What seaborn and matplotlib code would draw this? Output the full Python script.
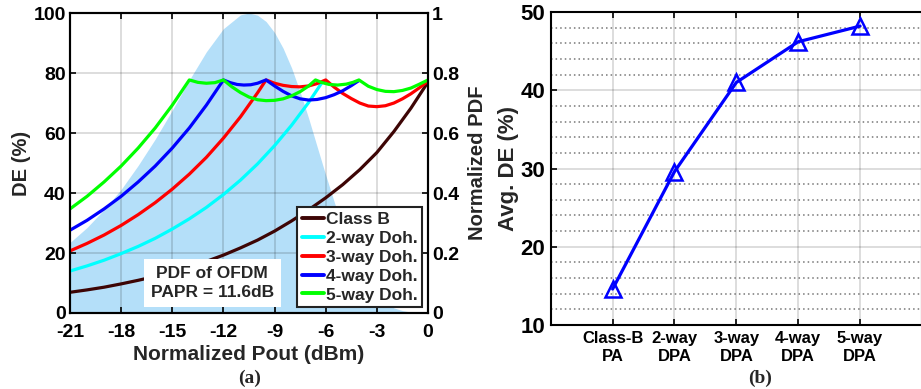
import numpy as np
import pandas as pd
import matplotlib
matplotlib.use("Agg")
import matplotlib.pyplot as plt
import seaborn as sns
from matplotlib.ticker import MultipleLocator, FixedLocator, FixedFormatter

# ---------------- data: panel (a) ----------------
series_names = ["Class B", "2-way Doh.", "3-way Doh.", "4-way Doh.", "5-way Doh."]
series_colors = ["#3d0505", "#00ffff", "#ff0000", "#0000ff", "#00ff00"]

pout_classb = [-21, -20, -19, -18, -17, -16, -15, -14, -13, -12, -11, -10,
               -9, -8, -7, -6, -5, -4, -3, -2, -1, 0]
de_classb = [6.9, 7.7, 8.6, 9.7, 10.9, 12.2, 13.7, 15.4, 17.2, 19.3, 21.7, 24.3,
             27.3, 30.7, 34.4, 38.4, 42.8, 47.8, 53.5, 60.5, 68.3, 77.0]

pout_2way = [-21, -20, -19, -18, -17, -16, -15, -14, -13, -12, -11, -10,
             -9, -8, -7, -6.2]
de_2way = [14.0, 15.7, 17.6, 19.8, 22.2, 24.9, 28.0, 31.4, 35.2, 39.5, 44.3, 49.7,
           55.8, 62.6, 70.2, 77.0]

pout_3way = [-21, -20, -19, -18, -17, -16, -15, -14, -13, -12, -11, -10, -9.5,
             -9.0, -8.5, -8.0, -7.5, -7.0, -6.5, -6.0,
             -5.5, -5.0, -4.5, -4.0, -3.5, -3.0, -2.5, -2.0, -1.5, -1.0, -0.5, 0]
de_3way = [20.7, 23.2, 26.0, 29.2, 32.8, 36.8, 41.3, 46.3, 51.9, 58.3, 65.4, 73.4, 77.7,
           76.6, 75.9, 75.5, 75.4, 75.7, 76.5, 77.7,
           75.3, 73.2, 71.5, 70.0, 69.0, 68.8, 69.1, 70.0, 71.4, 73.1, 75.1, 77.3]

pout_4way = [-21, -20, -19, -18, -17, -16, -15, -14, -13, -12,
             -11.6, -11.2, -10.8, -10.4, -10.0, -9.5,
             -9.0, -8.5, -8.0, -7.5, -7.0, -6.5, -6.0, -5.5, -5.0, -4.5, -4.05]
de_4way = [27.6, 30.9, 34.7, 38.9, 43.7, 49.0, 55.0, 61.7, 69.3, 77.7,
           76.8, 76.2, 76.0, 76.1, 76.6, 77.7,
           75.7, 73.9, 72.4, 71.4, 71.0, 71.2, 71.8, 72.8, 74.1, 75.8, 77.5]

pout_5way = [-21, -20, -19, -18, -17, -16, -15, -14,
             -13.5, -13.0, -12.5, -12.0,
             -11.5, -11.0, -10.5, -10.0, -9.5, -9.0, -8.5, -8.0, -7.5, -7.0, -6.6,
             -6.2, -5.8, -5.3, -4.8, -4.4, -4.05,
             -3.5, -3.0, -2.5, -2.0, -1.5, -1.0, -0.5, 0]
de_5way = [34.7, 38.9, 43.7, 49.0, 55.0, 61.7, 69.3, 77.7,
           76.9, 76.6, 76.8, 77.7,
           75.4, 73.5, 72.0, 71.1, 70.8, 70.9, 71.4, 72.4, 73.8, 75.7, 77.7,
           76.8, 76.2, 76.0, 76.3, 76.9, 77.7,
           75.6, 74.5, 73.9, 73.8, 74.2, 75.0, 76.3, 77.7]

pdf_pout = [-21, -20, -19, -18, -17, -16, -15, -14, -13, -12, -11, -10.5, -10,
            -9.5, -9, -8.5, -8, -7.5, -7, -6.5, -6, -5.5, -5, -4.5, -4, -3.5,
            -3, -2.5, -2, -1.5, -1, 0]
pdf_val = [0.235, 0.285, 0.345, 0.412, 0.492, 0.58, 0.676, 0.777, 0.871, 0.948,
           0.994, 1.0, 0.993, 0.972, 0.935, 0.883, 0.817, 0.737, 0.649, 0.554,
           0.46, 0.37, 0.285, 0.21, 0.145, 0.095, 0.058, 0.033, 0.017, 0.008,
           0.003, 0.0]

# ---------------- data: panel (b) ----------------
pa_types = ["Class-B\nPA", "2-way\nDPA", "3-way\nDPA", "4-way\nDPA", "5-way\nDPA"]
avg_de = [14.6, 29.6, 41.0, 46.2, 48.2]

# ---------------- style ----------------
sns.set_theme(style="ticks")
plt.rcParams['font.family'] = ['Liberation Sans', 'DejaVu Sans']
plt.rcParams['font.weight'] = 'bold'
plt.rcParams['axes.labelweight'] = 'bold'
plt.rcParams['axes.edgecolor'] = 'black'
plt.rcParams['axes.linewidth'] = 1.5
plt.rcParams['axes.unicode_minus'] = False

fig = plt.figure(figsize=(9.21, 3.89), dpi=100)

# ---------------- panel (a) ----------------
ax1 = fig.add_axes([0.076, 0.1954, 0.3887, 0.771])
ax2 = ax1.twinx()
ax1.set_zorder(ax2.get_zorder() + 1)
ax1.patch.set_visible(False)
ax2.patch.set_visible(True)
ax2.patch.set_facecolor("white")

ax2.fill_between(pdf_pout, pdf_val, 0, color=(0.30, 0.70, 0.95), alpha=0.42, lw=0)
ax2.set_ylim(0, 1)
ax2.yaxis.set_major_locator(FixedLocator([0, 0.2, 0.4, 0.6, 0.8, 1.0]))
ax2.yaxis.set_major_formatter(FixedFormatter(["0", "0.2", "0.4", "0.6", "0.8", "1"]))
ax2.set_ylabel("Normalized PDF", fontsize=14.5, fontweight="bold", labelpad=6)

frames = []
for name, xs, ys in zip(series_names,
                        [pout_classb, pout_2way, pout_3way, pout_4way, pout_5way],
                        [de_classb, de_2way, de_3way, de_4way, de_5way]):
    frames.append(pd.DataFrame({"pout": xs, "de": ys, "series": name}))
df = pd.concat(frames, ignore_index=True)

sns.lineplot(data=df, x="pout", y="de", hue="series", hue_order=series_names,
             palette=dict(zip(series_names, series_colors)), sort=False,
             estimator=None, lw=2.3, ax=ax1)

ax1.set_xlim(-21, 0)
ax1.set_ylim(0, 100)
ax1.xaxis.set_major_locator(MultipleLocator(3))
ax1.yaxis.set_major_locator(MultipleLocator(20))
ax1.grid(True, color="black", alpha=0.15, lw=1.3)
ax1.set_axisbelow(True)
ax1.set_xlabel("Normalized Pout (dBm)", fontsize=15, fontweight="bold", labelpad=3)
ax1.set_ylabel("DE (%)", fontsize=14.5, fontweight="bold", labelpad=2)

for a in (ax1, ax2):
    a.tick_params(direction="in", length=4, width=1.2, labelsize=14, pad=3,
                  colors="black")
ax1.tick_params(axis="x", pad=8)
ax1.tick_params(top=True, right=False)
ax2.tick_params(right=True)

leg = ax1.get_legend()
handles = leg.legend_handles
labels = [t.get_text() for t in leg.get_texts()]
leg.remove()
for h in handles:
    h.set_linewidth(2.8)
lg = ax1.legend(handles, labels, loc="lower right",
                prop={"weight": "bold", "size": 12.5},
                frameon=True, fancybox=False, edgecolor="#222222",
                framealpha=1, handlelength=1.3, handletextpad=0.1,
                labelspacing=0.22, borderpad=0.25, borderaxespad=0.35)
lg.get_frame().set_linewidth(1.5)

ax1.text(-12.65, 10, "PDF of OFDM\nPAPR = 11.6dB", ha="center", va="center",
         fontsize=12.5, fontweight="bold", linespacing=1.35,
         bbox=dict(facecolor="white", edgecolor="none", pad=5))

# ---------------- panel (b) ----------------
ax3 = fig.add_axes([0.598, 0.1645, 0.403, 0.8046])
df2 = pd.DataFrame({"pa": pa_types, "avg": avg_de})
sns.lineplot(data=df2, x="pa", y="avg", sort=False, color="#0000ff", lw=2.3,
             marker="^", markersize=11, markerfacecolor="none",
             markeredgecolor="#0000ff", markeredgewidth=1.8, ax=ax3)
ax3.set_xlim(-1, len(pa_types))
ax3.set_ylim(10, 50)
ax3.yaxis.set_major_locator(MultipleLocator(10))
ax3.yaxis.set_minor_locator(MultipleLocator(2))
ax3.grid(True, which="major", color="black", alpha=0.15, lw=1.3)
ax3.grid(True, which="minor", axis="y", color="#555555", ls=(0, (1, 2)), lw=1.1, alpha=0.8)
ax3.set_axisbelow(True)
ax3.set_xlabel("")
ax3.set_ylabel("Avg. DE (%)", fontsize=16, fontweight="bold", labelpad=1)
ax3.tick_params(axis="y", which="major", direction="in", length=4, width=1.2,
                labelsize=16, pad=4, colors="black")
ax3.tick_params(axis="x", which="major", direction="in", length=4, width=1.2,
                labelsize=12, pad=4, colors="black", top=True)
ax3.tick_params(which="minor", length=0)
for t in ax3.get_xticklabels():
    t.set_fontweight("bold")
    t.set_linespacing(1.3)

fig.text(0.271, 0.028, "(a)", ha="center", va="center", fontsize=14,
         fontweight="bold", family=["Liberation Serif", "DejaVu Serif"])
fig.text(0.825, 0.028, "(b)", ha="center", va="center", fontsize=14,
         fontweight="bold", family=["Liberation Serif", "DejaVu Serif"])

fig.savefig("out.png", dpi=100)
